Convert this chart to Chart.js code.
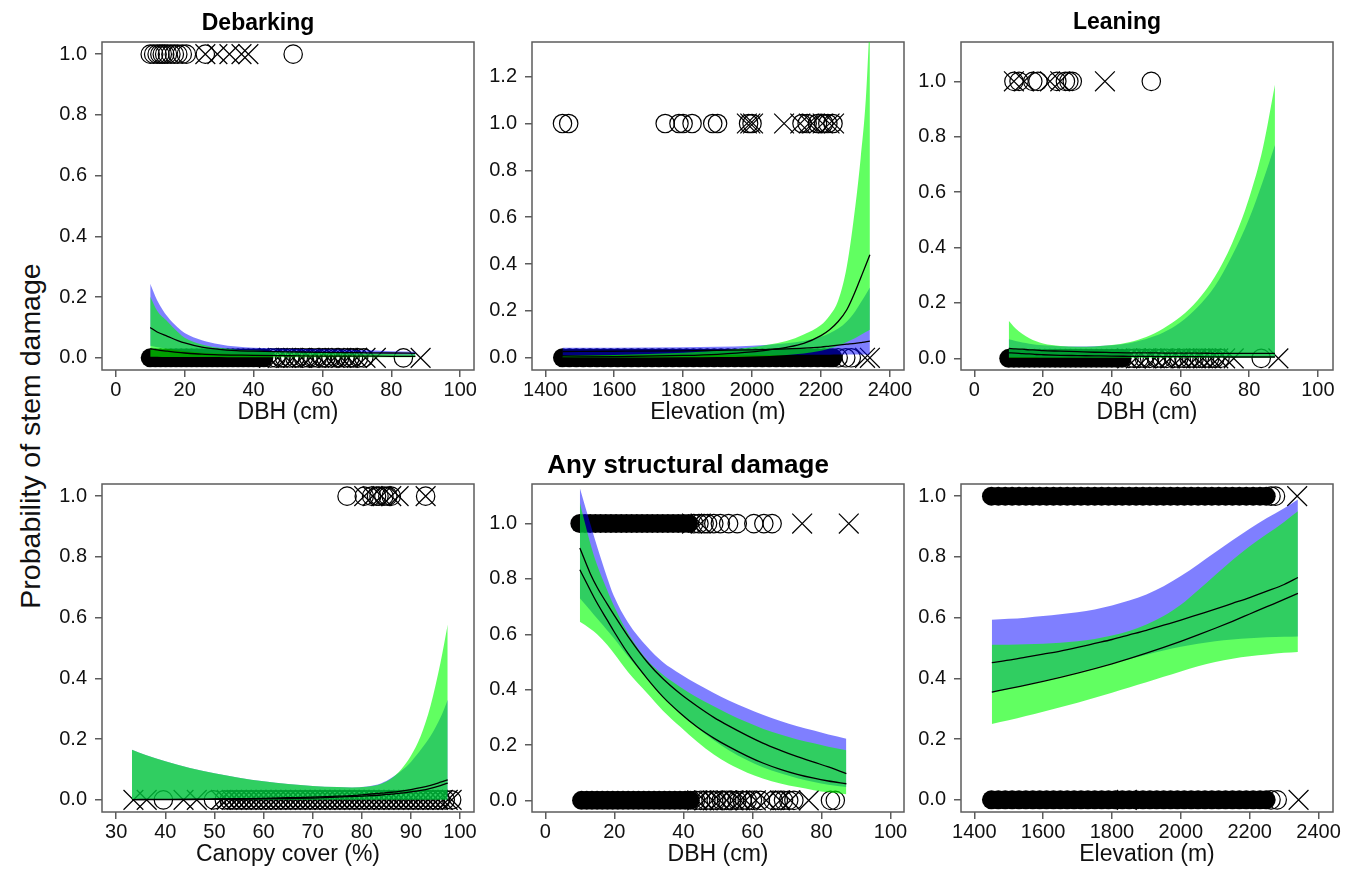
<!DOCTYPE html>
<html><head><meta charset="utf-8">
<script src="https://cdn.jsdelivr.net/npm/chart.js@4.4.0/dist/chart.umd.min.js"></script>
<style>
html,body{margin:0;padding:0;background:#fff;}
#wrap{position:relative;width:1357px;height:871px;overflow:hidden;background:#fff;}
canvas{position:absolute;}
#ylab{position:absolute;left:30px;top:436px;transform:translate(-50%,-50%) rotate(-90deg);font-family:'Liberation Sans',Arial,sans-serif;font-size:28.5px;line-height:1;white-space:nowrap;color:#111;}
</style></head>
<body><div id="wrap"><div id="ylab">Probability of stem damage</div></div>
<script>
// ---------- tick labels ----------
const dbhTicks = [0, 20, 40, 60, 80, 100];
const elevTicks = [1400, 1600, 1800, 2000, 2200, 2400];
const canopyTicks = [30, 40, 50, 60, 70, 80, 90, 100];
const probTicks = [0, 0.2, 0.4, 0.6, 0.8, 1.0];
const probTicksTall = [0, 0.2, 0.4, 0.6, 0.8, 1.0, 1.2];

// ---------- Panel 1: Debarking vs DBH ----------
const p1CurveX = [10, 12, 15, 18, 20, 25, 30, 35, 40, 50, 60, 70, 80, 87];
const p1BlueUp = [0.244, 0.19, 0.136, 0.1, 0.082, 0.058, 0.045, 0.037, 0.033, 0.03, 0.028, 0.026, 0.022, 0.02];
const p1BlueLo = [0.04, 0.035, 0.03, 0.025, 0.022, 0.017, 0.014, 0.012, 0.011, 0.01, 0.009, 0.008, 0.007, 0.007];
const p1GreenUp = [0.202, 0.155, 0.12, 0.085, 0.066, 0.044, 0.033, 0.027, 0.024, 0.02, 0.017, 0.015, 0.013, 0.012];
const p1GreenLo = [0.004, 0.004, 0.003, 0.003, 0.003, 0.003, 0.003, 0.002, 0.002, 0.002, 0.002, 0.002, 0.002, 0.002];
const p1FitA = [0.1, 0.085, 0.071, 0.057, 0.049, 0.035, 0.028, 0.024, 0.022, 0.02, 0.018, 0.017, 0.016, 0.015];
const p1FitB = [0.03, 0.026, 0.022, 0.018, 0.016, 0.012, 0.01, 0.009, 0.008, 0.007, 0.006, 0.006, 0.005, 0.005];
const p1Circ1 = [10, 11, 12, 12.8, 13.5, 14.2, 15, 16, 17, 18, 19.3, 20.5, 26, 51.5];
const p1Cross1 = [26, 29.5, 33, 36.5, 38.5];
const p1Dense0 = [10, 11.5, 13, 14.5, 16, 17.5, 19, 20.5, 22, 23.5, 25, 26.5, 28, 29.5, 31, 32.5, 34, 35.5, 37, 38.5, 40, 41.5, 43];
const p1Circ0 = [45, 46.5, 48, 49, 50.5, 52, 53, 54.5, 56, 57, 58.5, 60, 61, 62.5, 64, 65, 66.5, 68, 69, 70.5, 72, 83.5];
const p1Cross0 = [44.5, 47, 49.5, 51.5, 54, 56.5, 59, 61.5, 63.5, 65.5, 67.5, 70, 72.5, 75.5, 88.5];

// ---------- Panel 2: (top middle) vs Elevation ----------
const p2CurveX = [1450, 1600, 1800, 1900, 2000, 2050, 2100, 2150, 2200, 2225, 2250, 2275, 2300, 2315, 2330, 2342];
const p2BlueUp = [0.043, 0.043, 0.045, 0.047, 0.052, 0.056, 0.062, 0.072, 0.09, 0.105, 0.125, 0.155, 0.2, 0.235, 0.27, 0.3];
const p2BlueLo = [0.011, 0.011, 0.012, 0.012, 0.012, 0.012, 0.012, 0.013, 0.013, 0.013, 0.014, 0.014, 0.014, 0.014, 0.014, 0.014];
const p2GreenUp = [0.008, 0.012, 0.022, 0.03, 0.045, 0.057, 0.072, 0.1, 0.14, 0.18, 0.245, 0.39, 0.65, 0.85, 1.1, 1.45];
const p2GreenLo = [0.0005, 0.001, 0.002, 0.003, 0.006, 0.008, 0.012, 0.018, 0.03, 0.04, 0.052, 0.068, 0.085, 0.097, 0.11, 0.12];
const p2FitA = [0.027, 0.028, 0.03, 0.032, 0.034, 0.036, 0.038, 0.041, 0.046, 0.05, 0.054, 0.058, 0.062, 0.065, 0.068, 0.071];
const p2FitB = [0.003, 0.005, 0.01, 0.015, 0.025, 0.034, 0.045, 0.062, 0.095, 0.12, 0.155, 0.205, 0.285, 0.34, 0.395, 0.44];
const p2Circ1 = [1450, 1468, 1748, 1788, 1800, 1826, 1886, 1900, 1990, 2000, 2145, 2160, 2190, 2208, 2220, 2235];
const p2Cross1 = [1985, 1995, 2003, 2093, 2140, 2165, 2175, 2205, 2225, 2238];
const p2Dense0 = [1450, 1470, 1490, 1510, 1530, 1550, 1570, 1590, 1610, 1630, 1650, 1670, 1690, 1710, 1730, 1750, 1770, 1790, 1810, 1830, 1850, 1870, 1890, 1910, 1930, 1950, 1970, 1990, 2010, 2030, 2050, 2070, 2090, 2110, 2130, 2150, 2170, 2190, 2210, 2225, 2235];
const p2Circ0 = [2250, 2272, 2288];
const p2Cross0 = [2328, 2342];

// ---------- Panel 3: Leaning vs DBH ----------
const p3CurveX = [10, 12, 14, 16, 18, 20, 25, 30, 35, 40, 45, 50, 55, 60, 65, 70, 75, 80, 84, 87.5];
const p3BlueUp = [0.069, 0.063, 0.057, 0.053, 0.049, 0.047, 0.044, 0.043, 0.044, 0.047, 0.055, 0.07, 0.093, 0.13, 0.185, 0.26, 0.37, 0.505, 0.64, 0.77];
const p3BlueLo = [0.005, 0.005, 0.005, 0.005, 0.005, 0.004, 0.004, 0.004, 0.004, 0.004, 0.004, 0.004, 0.004, 0.004, 0.004, 0.004, 0.004, 0.004, 0.004, 0.004];
const p3GreenUp = [0.136, 0.108, 0.088, 0.073, 0.062, 0.054, 0.045, 0.042, 0.043, 0.048, 0.058, 0.077, 0.108, 0.15, 0.21, 0.295, 0.415, 0.58, 0.76, 0.988];
const p3GreenLo = [0.002, 0.002, 0.002, 0.002, 0.002, 0.002, 0.002, 0.002, 0.002, 0.002, 0.002, 0.002, 0.002, 0.002, 0.002, 0.002, 0.002, 0.002, 0.002, 0.002];
const p3FitA = [0.036, 0.034, 0.033, 0.031, 0.03, 0.028, 0.026, 0.024, 0.022, 0.021, 0.02, 0.02, 0.019, 0.019, 0.019, 0.018, 0.018, 0.018, 0.018, 0.018];
const p3FitB = [0.02, 0.019, 0.017, 0.016, 0.014, 0.013, 0.011, 0.01, 0.009, 0.008, 0.0075, 0.007, 0.0065, 0.006, 0.006, 0.0055, 0.005, 0.005, 0.005, 0.005];
const p3Circ1 = [11.5, 13, 17, 18.5, 24, 26.5, 27.5, 28.5, 51.5];
const p3Cross1 = [11.5, 14.5, 22, 25, 38];
const p3Dense0 = [10, 11.5, 13, 14.5, 16, 17.5, 19, 20.5, 22, 23.5, 25, 26.5, 28, 29.5, 31, 32.5, 34, 35.5, 37, 38.5, 40, 41.5, 43];
const p3Circ0 = [45, 46.5, 48, 49.5, 51, 53, 54.5, 56, 58, 59.5, 61, 62.5, 64, 65.5, 67, 68.5, 70, 71.5, 83.5];
const p3Cross0 = [44.5, 47, 50, 52.5, 55, 57, 60, 62, 64.5, 66.5, 69, 71, 73, 75.5, 88.5];

// ---------- Panel 4: vs Canopy cover ----------
const p4CurveX = [33.2, 36, 40, 45, 50, 55, 60, 65, 70, 75, 78, 81, 84, 86, 88, 90, 92, 94, 96, 97.5];
const p4BlueUp = [0.165, 0.148, 0.127, 0.105, 0.088, 0.073, 0.061, 0.052, 0.046, 0.042, 0.041, 0.044, 0.055, 0.072, 0.095, 0.125, 0.165, 0.21, 0.27, 0.33];
const p4BlueLo = [0.001, 0.001, 0.001, 0.001, 0.001, 0.001, 0.001, 0.001, 0.001, 0.001, 0.001, 0.001, 0.001, 0.001, 0.001, 0.001, 0.001, 0.001, 0.001, 0.001];
const p4GreenUp = [0.165, 0.148, 0.127, 0.105, 0.088, 0.073, 0.061, 0.052, 0.046, 0.042, 0.041, 0.043, 0.053, 0.07, 0.1, 0.145, 0.21, 0.31, 0.45, 0.577];
const p4GreenLo = [0.0005, 0.0005, 0.0005, 0.0005, 0.0005, 0.0005, 0.0005, 0.0005, 0.0005, 0.0005, 0.0005, 0.0005, 0.0005, 0.0005, 0.0005, 0.0005, 0.0005, 0.0005, 0.0005, 0.0005];
const p4FitA = [0.001, 0.0012, 0.0015, 0.002, 0.003, 0.004, 0.005, 0.007, 0.009, 0.012, 0.014, 0.018, 0.022, 0.025, 0.029, 0.034, 0.04, 0.048, 0.058, 0.066];
const p4FitB = [0.0005, 0.0006, 0.0008, 0.001, 0.0015, 0.002, 0.003, 0.0045, 0.006, 0.009, 0.011, 0.013, 0.016, 0.019, 0.022, 0.026, 0.031, 0.038, 0.047, 0.055];
const p4Circ1 = [77, 80.5, 82, 83, 83.5, 84.5, 85.3, 86, 93];
const p4Cross1 = [80.5, 82.2, 84, 86, 87.5, 93];
const p4Circ0 = [39.6, 49.8, 52, 53, 54, 55, 56, 57, 58, 59, 60, 61, 62, 63, 64, 65, 66, 67, 68, 69, 70, 71, 72, 73, 74, 75, 76, 77, 78, 79, 80, 81, 82, 83, 84, 85, 86, 87, 88, 89, 90, 91, 92, 93, 94, 95, 96, 97, 98.3];
const p4Cross0 = [33.5, 36.2, 43.7, 46.4, 51.3, 52.5, 53.5, 54.5, 55.5, 56.5, 57.5, 58.5, 59.5, 60.5, 61.5, 62.5, 63.5, 64.5, 65.5, 66.5, 67.5, 68.5, 69.5, 70.5, 71.5, 72.5, 73.5, 74.5, 75.5, 76.5, 77.5, 78.5, 79.5, 80.5, 81.5, 82.5, 83.5, 84.5, 85.5, 86.5, 87.5, 88.5, 89.5, 90.5, 91.5, 92.5, 93.5, 94.5, 95.5, 96.5, 97.5, 98.3];

// ---------- Panel 5: Any structural damage vs DBH ----------
const p5CurveX = [10, 13, 15, 17.9, 19.8, 24, 29.5, 34, 39.1, 44, 48.8, 53, 58.5, 63, 68.1, 73, 77.8, 82, 87.2];
const p5BlueUp = [1.129, 1.0, 0.917, 0.805, 0.74, 0.642, 0.555, 0.5, 0.457, 0.42, 0.388, 0.362, 0.332, 0.309, 0.287, 0.268, 0.252, 0.238, 0.223];
const p5BlueLo = [0.73, 0.687, 0.657, 0.615, 0.587, 0.52, 0.44, 0.375, 0.314, 0.262, 0.217, 0.182, 0.145, 0.12, 0.098, 0.08, 0.066, 0.056, 0.048];
const p5GreenUp = [1.075, 0.93, 0.85, 0.76, 0.705, 0.603, 0.507, 0.455, 0.41, 0.372, 0.34, 0.313, 0.282, 0.259, 0.238, 0.22, 0.206, 0.194, 0.181];
const p5GreenLo = [0.645, 0.62, 0.6, 0.562, 0.532, 0.463, 0.387, 0.325, 0.266, 0.212, 0.166, 0.133, 0.1, 0.079, 0.061, 0.048, 0.037, 0.029, 0.022];
const p5FitA = [0.912, 0.82, 0.77, 0.71, 0.672, 0.592, 0.5, 0.44, 0.385, 0.34, 0.3, 0.27, 0.234, 0.207, 0.181, 0.158, 0.138, 0.121, 0.097];
const p5FitB = [0.833, 0.76, 0.713, 0.652, 0.612, 0.53, 0.44, 0.375, 0.315, 0.265, 0.225, 0.195, 0.16, 0.135, 0.112, 0.094, 0.08, 0.07, 0.06];
const p5Dense1 = [10, 11.5, 13, 14.5, 16, 17.5, 19, 20.5, 22, 23.5, 25, 26.5, 28, 29.5, 31, 32.5, 34, 35.5, 37, 38.5, 40, 41.5];
const p5Circ1 = [43, 44.5, 46, 47, 48.8, 50.7, 53.1, 55.6, 60.4, 63.3, 65.7];
const p5Cross1 = [42.5, 45, 74.4, 87.9];
const p5Dense0 = [10.5, 12, 13.5, 15, 16.5, 18, 19.5, 21, 22.5, 24, 25.5, 27, 28.5, 30, 31.5, 33, 34.5, 36, 37.5, 39, 40.5, 42];
const p5Circ0 = [43.5, 45, 46.5, 48, 49.5, 51, 52.5, 54, 55.5, 57, 58.5, 60, 62.3, 66, 67.5, 69, 70.5, 72, 82.6, 84];
const p5Cross0 = [44, 46, 48.5, 50.5, 52.5, 54.5, 56.5, 58, 61, 64, 68, 71, 76.3];

// ---------- Panel 6: vs Elevation ----------
const p6CurveX = [1451, 1500, 1550, 1600, 1650, 1700, 1750, 1800, 1850, 1900, 1950, 2000, 2050, 2100, 2150, 2200, 2250, 2300, 2340];
const p6BlueUp = [0.593, 0.596, 0.6, 0.605, 0.611, 0.618, 0.627, 0.64, 0.656, 0.676, 0.703, 0.737, 0.775, 0.815, 0.855, 0.893, 0.928, 0.96, 0.989];
const p6BlueLo = [0.352, 0.365, 0.378, 0.392, 0.406, 0.42, 0.435, 0.45, 0.464, 0.478, 0.492, 0.504, 0.514, 0.522, 0.528, 0.532, 0.535, 0.537, 0.538];
const p6GreenUp = [0.511, 0.511, 0.512, 0.514, 0.517, 0.522, 0.53, 0.541, 0.556, 0.577, 0.605, 0.642, 0.69, 0.74, 0.79, 0.835, 0.875, 0.915, 0.95];
const p6GreenLo = [0.25, 0.262, 0.276, 0.29, 0.305, 0.32, 0.336, 0.353, 0.37, 0.387, 0.405, 0.423, 0.44, 0.454, 0.465, 0.473, 0.479, 0.484, 0.487];
const p6FitA = [0.452, 0.46, 0.47, 0.48, 0.49, 0.502, 0.515, 0.528, 0.543, 0.558, 0.575, 0.592, 0.61, 0.628, 0.647, 0.666, 0.687, 0.709, 0.732];
const p6FitB = [0.355, 0.366, 0.378, 0.39, 0.403, 0.417, 0.432, 0.448, 0.465, 0.483, 0.502, 0.522, 0.543, 0.565, 0.588, 0.612, 0.636, 0.66, 0.68];
const p6Dense1 = [1450, 1470, 1490, 1510, 1530, 1550, 1570, 1590, 1610, 1630, 1650, 1670, 1690, 1710, 1730, 1750, 1770, 1790, 1810, 1830, 1850, 1870, 1890, 1910, 1930, 1950, 1970, 1990, 2010, 2030, 2050, 2070, 2090, 2110, 2130, 2150, 2170, 2190, 2210, 2230, 2248];
const p6Circ1 = [2262, 2275];
const p6Cross1 = [2338];
const p6Dense0 = [1450, 1470, 1490, 1510, 1530, 1550, 1570, 1590, 1610, 1630, 1650, 1670, 1690, 1710, 1730, 1750, 1770, 1790, 1810, 1830, 1850, 1870, 1890, 1910, 1930, 1950, 1970, 1990, 2010, 2030, 2050, 2070, 2090, 2110, 2130, 2150, 2170, 2190, 2210, 2230, 2248];
const p6Circ0 = [2262, 2280];
const p6Cross0 = [1843, 2342];

// ---------- rendering ----------
const FONT = "'Liberation Sans', Arial, Helvetica, sans-serif";
Chart.defaults.font.family = FONT;
const BLUE = 'rgba(0,0,255,0.5)';
const GREEN = 'rgba(0,255,0,0.62)';
const AXIS = '#5c5c5c';
const INK = '#111111';

function xy(xs, ys) { return xs.map((x, i) => ({ x: x, y: ys[i] })); }
function row(xs, y) { return xs.map(x => ({ x: x, y: y })); }

function band(xs, lo, up, color, order) {
  return [
    { data: xy(xs, lo), showLine: true, borderWidth: 0, borderColor: 'transparent', pointRadius: 0, fill: false, order: order, cubicInterpolationMode: 'monotone' },
    { data: xy(xs, up), showLine: true, borderWidth: 0, borderColor: 'transparent', pointRadius: 0, fill: '-1', backgroundColor: color, order: order, cubicInterpolationMode: 'monotone' }
  ];
}
function fit(xs, ys) {
  return { data: xy(xs, ys), showLine: true, borderColor: '#000', borderWidth: 1.3, pointRadius: 0, fill: false, order: 1, cubicInterpolationMode: 'monotone' };
}
function circles(xs, y) {
  return { data: row(xs, y), showLine: false, pointStyle: 'circle', pointRadius: 9.2, pointBorderColor: '#000', pointBackgroundColor: 'rgba(0,0,0,0)', pointBorderWidth: 1.2, order: 5, clip: false };
}
function crosses(xs, y) {
  return { data: row(xs, y), showLine: false, pointStyle: 'crossRot', pointRadius: 14, pointBorderColor: '#000', pointBorderWidth: 1.2, order: 5, clip: false };
}
function dense(xs, y) {
  return { data: row(xs, y), showLine: false, pointStyle: 'circle', pointRadius: 9.5, pointBorderWidth: 0, pointBackgroundColor: '#000', order: 6, clip: false };
}

const framePlugin = {
  id: 'frame',
  beforeDatasetsDraw(chart) {
    const a = chart.chartArea, ctx = chart.ctx;
    ctx.save();
    ctx.strokeStyle = AXIS;
    ctx.lineWidth = 1.5;
    ctx.strokeRect(a.left, a.top, a.right - a.left, a.bottom - a.top);
    ctx.restore();
  }
};

const panels = [
  { left: 102, top: 42, title: 'Debarking', titleSize: 23, titlePad: { top: 6, bottom: 7 }, xTitle: 'DBH (cm)', xMin: -4, xMax: 104, xTicks: dbhTicks, yMin: -0.04, yMax: 1.04, yTicks: probTicks,
    datasets: [].concat(band(p1CurveX, p1BlueLo, p1BlueUp, BLUE, 3), band(p1CurveX, p1GreenLo, p1GreenUp, GREEN, 2), [fit(p1CurveX, p1FitA), fit(p1CurveX, p1FitB),
      dense(p1Dense0, 0), circles(p1Circ0, 0), crosses(p1Cross0, 0), circles(p1Circ1, 1), crosses(p1Cross1, 1)]) },
  { left: 532, top: 42, title: null, xTitle: 'Elevation (m)', xMin: 1361.5, xMax: 2441, xTicks: elevTicks, yMin: -0.052, yMax: 1.348, yTicks: probTicksTall,
    datasets: [].concat(band(p2CurveX, p2BlueLo, p2BlueUp, BLUE, 3), band(p2CurveX, p2GreenLo, p2GreenUp, GREEN, 2), [fit(p2CurveX, p2FitA), fit(p2CurveX, p2FitB),
      dense(p2Dense0, 0), circles(p2Circ0, 0), crosses(p2Cross0, 0), circles(p2Circ1, 1), crosses(p2Cross1, 1)]) },
  { left: 961, top: 42, title: 'Leaning', titleSize: 23, titlePad: { top: 5, bottom: 8 }, xTitle: 'DBH (cm)', xMin: -3.9, xMax: 104.4, xTicks: dbhTicks, yMin: -0.042, yMax: 1.142, yTicks: probTicks,
    datasets: [].concat(band(p3CurveX, p3BlueLo, p3BlueUp, BLUE, 3), band(p3CurveX, p3GreenLo, p3GreenUp, GREEN, 2), [fit(p3CurveX, p3FitA), fit(p3CurveX, p3FitB),
      dense(p3Dense0, 0), circles(p3Circ0, 0), crosses(p3Cross0, 0), circles(p3Circ1, 1), crosses(p3Cross1, 1)]) },
  { left: 102, top: 484, title: null, xTitle: 'Canopy cover (%)', xMin: 27.1, xMax: 102.85, xTicks: canopyTicks, yMin: -0.04, yMax: 1.04, yTicks: probTicks,
    datasets: [].concat(band(p4CurveX, p4BlueLo, p4BlueUp, BLUE, 3), band(p4CurveX, p4GreenLo, p4GreenUp, GREEN, 2), [fit(p4CurveX, p4FitA), fit(p4CurveX, p4FitB),
      circles(p4Circ0, 0), crosses(p4Cross0, 0), circles(p4Circ1, 1), crosses(p4Cross1, 1)]) },
  { left: 532, top: 484, title: 'Any structural damage', titleSize: 26, titlePad: { top: 5, bottom: 5 }, xTitle: 'DBH (cm)', xMin: -3.86, xMax: 103.9, xTicks: dbhTicks, yMin: -0.042, yMax: 1.143, yTicks: probTicks,
    datasets: [].concat(band(p5CurveX, p5BlueLo, p5BlueUp, BLUE, 3), band(p5CurveX, p5GreenLo, p5GreenUp, GREEN, 2), [fit(p5CurveX, p5FitA), fit(p5CurveX, p5FitB),
      dense(p5Dense0, 0), circles(p5Circ0, 0), crosses(p5Cross0, 0), dense(p5Dense1, 1), circles(p5Circ1, 1), crosses(p5Cross1, 1)]) },
  { left: 961, top: 484, title: null, xTitle: 'Elevation (m)', xMin: 1361.5, xMax: 2442, xTicks: elevTicks, yMin: -0.04, yMax: 1.04, yTicks: probTicks,
    datasets: [].concat(band(p6CurveX, p6BlueLo, p6BlueUp, BLUE, 3), band(p6CurveX, p6GreenLo, p6GreenUp, GREEN, 2), [fit(p6CurveX, p6FitA), fit(p6CurveX, p6FitB),
      dense(p6Dense0, 0), circles(p6Circ0, 0), crosses(p6Cross0, 0), dense(p6Dense1, 1), circles(p6Circ1, 1), crosses(p6Cross1, 1)]) }
];

const Y_W = 60, X_H = 56, TOP = 36, RIGHT = 20, BOX_W = 372, BOX_H = 328;
const wrap = document.getElementById('wrap');

panels.forEach(p => {
  const cv = document.createElement('canvas');
  cv.width = Y_W + BOX_W + RIGHT;
  cv.height = TOP + BOX_H + X_H;
  cv.style.left = (p.left - Y_W) + 'px';
  cv.style.top = (p.top - TOP) + 'px';
  cv.style.width = cv.width + 'px';
  cv.style.height = cv.height + 'px';
  wrap.appendChild(cv);
  new Chart(cv.getContext('2d'), {
    type: 'line',
    data: { datasets: p.datasets },
    plugins: [framePlugin],
    options: {
      animation: false, responsive: false, devicePixelRatio: 1, events: [],
      layout: { padding: { top: p.title ? 0 : TOP, right: RIGHT, bottom: 0, left: 0 } },
      plugins: {
        legend: { display: false }, tooltip: { enabled: false },
        title: p.title ? { display: true, text: p.title, color: '#000', font: { size: p.titleSize, weight: 'bold', lineHeight: 1 }, padding: p.titlePad } : { display: false }
      },
      scales: {
        x: {
          type: 'linear', min: p.xMin, max: p.xMax,
          afterBuildTicks: s => { s.ticks = p.xTicks.map(v => ({ value: v })); },
          afterFit: s => { s.height = X_H; },
          border: { display: false },
          grid: { drawOnChartArea: false, drawTicks: true, tickLength: 7, color: AXIS, lineWidth: 1.5 },
          ticks: { autoSkip: false, maxRotation: 0, padding: 1, color: INK, font: { size: 20 }, callback: v => String(v) },
          title: { display: true, text: p.xTitle, color: INK, font: { size: 23, lineHeight: 1 }, padding: { top: 0, bottom: 2 } }
        },
        y: {
          type: 'linear', min: p.yMin, max: p.yMax,
          afterBuildTicks: s => { s.ticks = p.yTicks.map(v => ({ value: v })); },
          afterFit: s => { s.width = Y_W; },
          border: { display: false },
          grid: { drawOnChartArea: false, drawTicks: true, tickLength: 7, color: AXIS, lineWidth: 1.5 },
          ticks: { autoSkip: false, padding: 8, color: INK, font: { size: 20 }, callback: v => Number(v).toFixed(1) }
        }
      }
    }
  });
});
</script>
</body></html>
